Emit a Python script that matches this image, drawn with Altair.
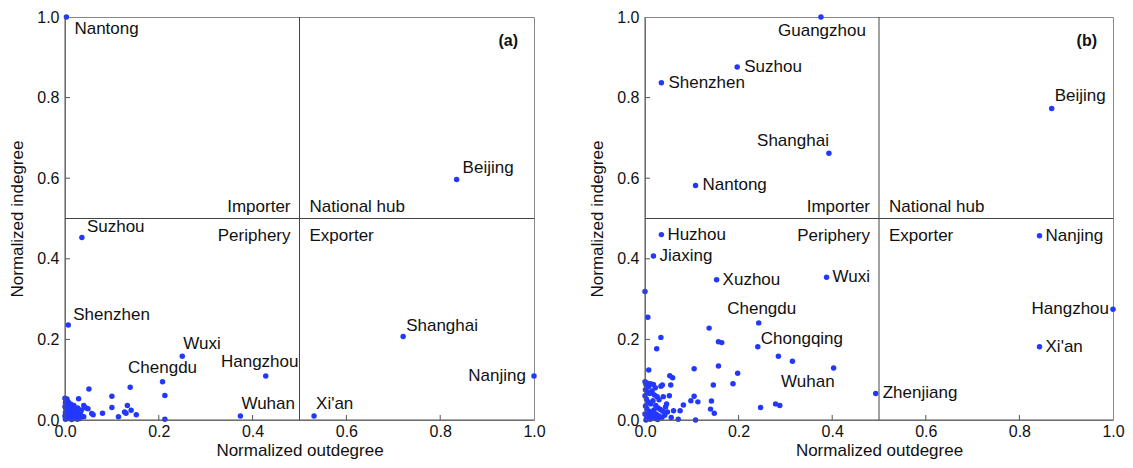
import altair as alt
import pandas as pd

# ---------------- data ----------------
# Panel (a)
names_a = ["Nantong", "Beijing", "Suzhou", "Shenzhen", "Wuxi", "Chengdu",
           "Hangzhou", "Wuhan", "Xi'an", "Shanghai", "Nanjing"]
out_a = [0.003, 0.835, 0.036, 0.007, 0.250, 0.208, 0.428, 0.374, 0.531, 0.721, 1.0]
in_a = [1.0, 0.597, 0.453, 0.236, 0.158, 0.095, 0.109, 0.010, 0.010, 0.207, 0.109]

other_out_a = [0.051, 0.139, 0.100, 0.029, 0.213, 0.213, 0.040, 0.049, 0.057, 0.060,
               0.080, 0.100, 0.114, 0.133, 0.130, 0.141, 0.152, 0.040, 0.045, 0.127,
               0.000, 0.002, 0.004, 0.001, 0.003, 0.000, 0.005, 0.002, 0.006, 0.001,
               0.004, 0.000, 0.003, 0.001, 0.006, 0.008, 0.009, 0.010, 0.011, 0.012,
               0.013, 0.015, 0.016, 0.017, 0.018, 0.020, 0.021, 0.023, 0.025, 0.027,
               0.029, 0.031, 0.033, 0.035, 0.037, 0.007, 0.012, 0.019, 0.026, 0.014]
other_in_a = [0.077, 0.081, 0.059, 0.053, 0.061, 0.002, 0.036, 0.028, 0.016, 0.013,
              0.017, 0.031, 0.008, 0.036, 0.017, 0.024, 0.013, 0.008, 0.030, 0.020,
              0.054, 0.048, 0.052, 0.043, 0.038, 0.033, 0.030, 0.026, 0.022, 0.018,
              0.015, 0.010, 0.006, 0.002, 0.004, 0.011, 0.034, 0.019, 0.027, 0.007,
              0.014, 0.031, 0.022, 0.003, 0.012, 0.026, 0.017, 0.008, 0.020, 0.030,
              0.011, 0.004, 0.018, 0.025, 0.009, 0.045, 0.040, 0.036, 0.002, 0.001]

# Panel (b)
names_b = ["Guangzhou", "Suzhou", "Shenzhen", "Beijing", "Shanghai", "Nantong",
           "Huzhou", "Jiaxing", "Xuzhou", "Wuxi", "Nanjing", "Hangzhou", "Xi'an",
           "Chengdu", "Chongqing", "Wuhan", "Zhenjiang"]
out_b = [0.376, 0.197, 0.035, 0.869, 0.393, 0.108, 0.035, 0.018, 0.153, 0.388,
         0.843, 1.0, 0.843, 0.243, 0.241, 0.403, 0.493]
in_b = [1.0, 0.876, 0.837, 0.773, 0.662, 0.582, 0.460, 0.407, 0.348, 0.354,
        0.457, 0.275, 0.182, 0.241, 0.182, 0.129, 0.066]

other_out_b = [0.000, 0.006, 0.034, 0.025, 0.137, 0.157, 0.164, 0.285, 0.315, 0.105,
               0.157, 0.198, 0.188, 0.146, 0.053, 0.059, 0.037, 0.055, 0.008, 0.105,
               0.098, 0.113, 0.082, 0.075, 0.061, 0.056, 0.071, 0.108, 0.142, 0.140,
               0.148, 0.247, 0.279, 0.288, 0.052, 0.039,
               0.000, 0.002, 0.004, 0.008, 0.012, 0.018, 0.022, 0.001, 0.005, 0.010,
               0.015, 0.020, 0.026, 0.030, 0.000, 0.003, 0.007, 0.012, 0.017, 0.023,
               0.028, 0.033, 0.038, 0.044, 0.001, 0.004, 0.009, 0.014, 0.019, 0.024,
               0.030, 0.036, 0.042, 0.000, 0.003, 0.006, 0.011, 0.016, 0.021, 0.027,
               0.002, 0.008, 0.034, 0.046, 0.048]
other_in_b = [0.319, 0.255, 0.205, 0.177, 0.228, 0.194, 0.192, 0.158, 0.146, 0.127,
              0.134, 0.116, 0.090, 0.087, 0.110, 0.105, 0.087, 0.087, 0.124, 0.059,
              0.048, 0.045, 0.037, 0.023, 0.023, 0.006, 0.002, 0.000, 0.047, 0.027,
              0.017, 0.031, 0.040, 0.036, 0.060, 0.058,
              0.095, 0.088, 0.092, 0.083, 0.090, 0.088, 0.080, 0.075, 0.070, 0.066,
              0.072, 0.062, 0.058, 0.050, 0.060, 0.052, 0.045, 0.040, 0.048, 0.036,
              0.030, 0.026, 0.022, 0.032, 0.035, 0.028, 0.022, 0.018, 0.025, 0.014,
              0.010, 0.006, 0.012, 0.015, 0.010, 0.005, 0.002, 0.008, 0.004, 0.001,
              0.000, 0.013, 0.084, 0.040, 0.020]

tick_vals = [0.0, 0.2, 0.4, 0.6, 0.8, 1.0]
inner_ticks = [0.2, 0.4, 0.6, 0.8]

# ---------------- styling ----------------
FONT = "Liberation Sans"
DOT = "#2338ff"
W_A, W_B, H = 469, 468, 403

# label placement per city: (align, dx, dy)
place_a = {
    "Nantong": ("left", 8, 12), "Beijing": ("left", 6, -11),
    "Suzhou": ("left", 5, -10), "Shenzhen": ("left", 5, -10),
    "Wuxi": ("left", 1, -12), "Chengdu": ("center", 0, -14),
    "Hangzhou": ("center", -6, -14), "Wuhan": ("left", 1, -12),
    "Xi'an": ("left", 2, -12), "Shanghai": ("left", 3, -11),
    "Nanjing": ("right", -8, 0),
}
place_b = {
    "Guangzhou": ("center", 1, 14), "Suzhou": ("left", 7, 0),
    "Shenzhen": ("left", 7, 0), "Beijing": ("left", 3, -12),
    "Shanghai": ("right", 0, -12), "Nantong": ("left", 7, 0),
    "Huzhou": ("left", 6, 0), "Jiaxing": ("left", 6, 0),
    "Xuzhou": ("left", 6, 0), "Wuxi": ("left", 6, 0),
    "Nanjing": ("left", 6, 0), "Hangzhou": ("right", -4, 0),
    "Xi'an": ("left", 6, 0), "Chengdu": ("center", 3, -14),
    "Chongqing": ("left", 3, -8), "Wuhan": ("right", 1, 14),
    "Zhenjiang": ("left", 7, 0),
}

xscale = alt.Scale(domain=[0, 1], nice=False, zero=False)
yscale = alt.Scale(domain=[0, 1], nice=False, zero=False)

AX_X = alt.Axis(title="Normalized outdegree", values=tick_vals,
                format=".1f", grid=False, ticks=False,
                domain=False, labelFontSize=16, titleFontSize=17,
                labelPadding=3, titlePadding=3,
                labelColor="#111", titleColor="#111",
                labelFont=FONT, titleFont=FONT,
                titleFontWeight="normal", labelFlush=False)
AX_Y = alt.Axis(title="Normalized indegree", values=tick_vals,
                format=".1f", grid=False, ticks=False,
                domain=False, labelFontSize=16, titleFontSize=17,
                labelPadding=6, titlePadding=10,
                labelColor="#111", titleColor="#111",
                labelFont=FONT, titleFont=FONT,
                titleFontWeight="normal", labelFlush=False)


def X(field):
    return alt.X(field, scale=xscale, axis=AX_X)


def Y(field):
    return alt.Y(field, scale=yscale, axis=AX_Y)


def panel(names, outs, ins, oo, oi, place, tag, W):
    df = pd.DataFrame({
        "out": list(outs) + list(oo),
        "in": list(ins) + list(oi),
        "name": list(names) + [""] * len(oo),
    })
    base = alt.Chart(df)
    pts = base.mark_circle(size=30, color=DOT, opacity=1).encode(
        x=X("out:Q"), y=Y("in:Q"))
    layers = []
    tdf = pd.DataFrame({"t": inner_ticks})
    xt = alt.Chart(tdf).mark_rule(color="#555", strokeWidth=1).encode(
        x=X("t:Q"), y=alt.value(H), y2=alt.value(H - 5))
    yt = alt.Chart(tdf).mark_rule(color="#555", strokeWidth=1).encode(
        y=Y("t:Q"), x=alt.value(0), x2=alt.value(5))
    mid = pd.DataFrame({"m": [0.5]})
    vline = alt.Chart(mid).mark_rule(color="#444", strokeWidth=1).encode(
        x=X("m:Q"))
    hline = alt.Chart(mid).mark_rule(color="#444", strokeWidth=1).encode(
        y=Y("m:Q"))
    left = alt.Chart(mid).mark_rule(color="#555", strokeWidth=1).encode(
        x=alt.value(0), y=alt.value(0), y2=alt.value(H))
    bottom = alt.Chart(mid).mark_rule(color="#555", strokeWidth=1).encode(
        y=alt.value(H), x=alt.value(0), x2=alt.value(W))
    layers += [pts, vline, hline, xt, yt, left, bottom]

    quad = [("Importer", "right", -9, "bottom", -3),
            ("National hub", "left", 10, "bottom", -3),
            ("Periphery", "right", -9, "top", 9),
            ("Exporter", "left", 10, "top", 9)]
    for txt, al, dx, bl, dy in quad:
        qd = pd.DataFrame({"x": [0.5], "y": [0.5], "t": [txt]})
        layers.append(alt.Chart(qd).mark_text(
            align=al, baseline=bl, dx=dx, dy=dy, fontSize=17, font=FONT,
            color="#111").encode(x=X("x:Q"), y=Y("y:Q"), text="t:N"))

    tg = pd.DataFrame({"x": [1.0], "y": [1.0], "t": [tag]})
    layers.append(alt.Chart(tg).mark_text(
        align="right", baseline="middle", dx=-16, dy=24, fontSize=16,
        fontWeight="bold", font=FONT, color="#111").encode(
        x=X("x:Q"), y=Y("y:Q"), text="t:N"))

    for nm in names:
        al, dx, dy = place[nm]
        layers.append(base.transform_filter(alt.datum.name == nm).mark_text(
            align=al, baseline="middle", dx=dx, dy=dy, fontSize=17,
            font=FONT, color="#111").encode(
            x=X("out:Q"), y=Y("in:Q"), text="name:N"))

    return alt.layer(*layers).properties(width=W, height=H)


pa = panel(names_a, out_a, in_a, other_out_a, other_in_a, place_a, "(a)", W_A)
pb = panel(names_b, out_b, in_b, other_out_b, other_in_b, place_b, "(b)", W_B)

chart = alt.hconcat(pa, pb, spacing=42).properties(
    padding={"left": 0, "top": 0, "right": 0, "bottom": 0}
).configure_view(stroke="#888", strokeWidth=1)

chart.save("out.html", embed_options={"renderer": "svg", "actions": False})
